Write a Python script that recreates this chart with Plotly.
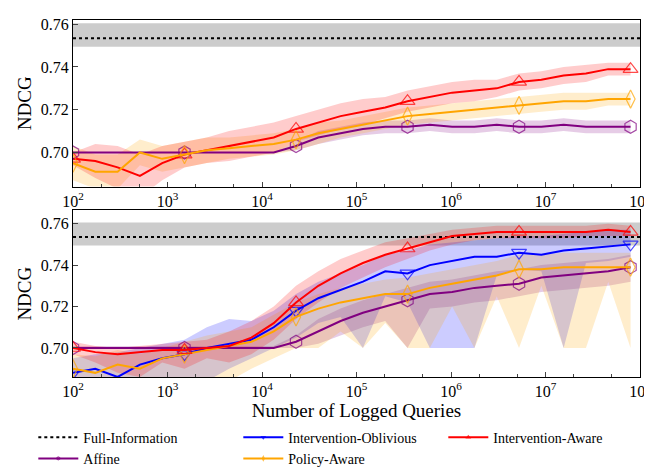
import plotly.graph_objects as go
from plotly.subplots import make_subplots

log_x = [2 + 0.236 * i for i in range(26)]
x = [10 ** v for v in log_x]
full_info = 0.7535
full_lo, full_hi = 0.7495, 0.7605

# top panel
top_affine = [0.700]*10 + [0.703, 0.707, 0.709, 0.711, 0.712, 0.712, 0.713, 0.712, 0.712, 0.713, 0.712, 0.712, 0.713, 0.712, 0.712, 0.712]
top_aware = [0.697, 0.696, 0.693, 0.689, 0.695, 0.699, 0.701, 0.703, 0.705, 0.707, 0.711, 0.714, 0.717, 0.719, 0.721, 0.724, 0.726, 0.728, 0.729, 0.730, 0.733, 0.734, 0.736, 0.737, 0.739, 0.739]
top_policy = [0.695, 0.691, 0.691, 0.700, 0.697, 0.699, 0.701, 0.702, 0.703, 0.704, 0.706, 0.709, 0.711, 0.713, 0.715, 0.717, 0.718, 0.719, 0.720, 0.721, 0.722, 0.723, 0.724, 0.724, 0.725, 0.725]
top_affine_sd = [0.0]*10 + [0.002, 0.003, 0.003, 0.003, 0.003, 0.003, 0.003, 0.003, 0.003, 0.003, 0.003, 0.003, 0.003, 0.003, 0.003, 0.003]
top_aware_sd = [0.003, 0.008, 0.010, 0.010, 0.008, 0.006, 0.006, 0.007, 0.007, 0.007, 0.006, 0.006, 0.006, 0.006, 0.005, 0.005, 0.005, 0.005, 0.005, 0.004, 0.004, 0.004, 0.004, 0.004, 0.003, 0.003]
top_policy_sd = [0.008, 0.008, 0.008, 0.006, 0.006, 0.006, 0.006, 0.005, 0.005, 0.005, 0.005, 0.005, 0.004, 0.004, 0.004, 0.004, 0.004, 0.004, 0.004, 0.004, 0.004, 0.004, 0.004, 0.004, 0.003, 0.003]

# bottom panel
bot_affine = [0.700]*10 + [0.703, 0.708, 0.713, 0.717, 0.720, 0.723, 0.726, 0.727, 0.729, 0.730, 0.731, 0.734, 0.735, 0.736, 0.737, 0.739]
bot_oblivious = [0.688, 0.690, 0.686, 0.692, 0.695, 0.697, 0.700, 0.702, 0.704, 0.710, 0.718, 0.724, 0.728, 0.732, 0.737, 0.736, 0.740, 0.742, 0.744, 0.744, 0.746, 0.745, 0.747, 0.748, 0.749, 0.750]
bot_aware = [0.700, 0.698, 0.697, 0.698, 0.699, 0.699, 0.700, 0.701, 0.705, 0.712, 0.722, 0.730, 0.736, 0.741, 0.745, 0.748, 0.751, 0.754, 0.755, 0.756, 0.756, 0.756, 0.756, 0.756, 0.757, 0.756]
bot_policy = [0.690, 0.688, 0.692, 0.690, 0.695, 0.697, 0.699, 0.701, 0.703, 0.708, 0.715, 0.719, 0.722, 0.724, 0.726, 0.726, 0.729, 0.731, 0.733, 0.735, 0.738, 0.738, 0.739, 0.739, 0.739, 0.739]
bot_affine_lo = [0.700]*10 + [0.700, 0.702, 0.706, 0.710, 0.713, 0.700, 0.719, 0.720, 0.722, 0.723, 0.725, 0.727, 0.728, 0.729, 0.730, 0.732]
bot_affine_hi = [0.701]*10 + [0.706, 0.714, 0.719, 0.723, 0.726, 0.729, 0.732, 0.733, 0.735, 0.737, 0.738, 0.740, 0.741, 0.742, 0.743, 0.745]
bot_obl_lo = [0.684, 0.684, 0.684, 0.684, 0.684, 0.684, 0.684, 0.690, 0.695, 0.700, 0.705, 0.712, 0.715, 0.700, 0.725, 0.722, 0.700, 0.700, 0.700, 0.735, 0.738, 0.737, 0.700, 0.741, 0.742, 0.744]
bot_obl_hi = [0.695, 0.697, 0.698, 0.700, 0.702, 0.704, 0.710, 0.714, 0.713, 0.718, 0.726, 0.732, 0.736, 0.740, 0.745, 0.747, 0.750, 0.751, 0.752, 0.753, 0.754, 0.754, 0.755, 0.756, 0.757, 0.757]
bot_aware_lo = [0.697, 0.693, 0.688, 0.686, 0.693, 0.690, 0.695, 0.693, 0.697, 0.704, 0.714, 0.722, 0.729, 0.734, 0.739, 0.743, 0.747, 0.750, 0.752, 0.753, 0.753, 0.753, 0.753, 0.754, 0.754, 0.754]
bot_aware_hi = [0.703, 0.701, 0.700, 0.701, 0.702, 0.703, 0.704, 0.708, 0.713, 0.720, 0.730, 0.737, 0.743, 0.747, 0.751, 0.753, 0.755, 0.757, 0.758, 0.759, 0.759, 0.759, 0.759, 0.759, 0.760, 0.759]
bot_pol_lo = [0.684, 0.684, 0.684, 0.684, 0.684, 0.684, 0.684, 0.684, 0.690, 0.695, 0.700, 0.700, 0.708, 0.700, 0.712, 0.700, 0.700, 0.720, 0.700, 0.725, 0.700, 0.730, 0.700, 0.700, 0.732, 0.700]
bot_pol_hi = [0.697, 0.696, 0.699, 0.697, 0.700, 0.703, 0.706, 0.708, 0.710, 0.716, 0.722, 0.726, 0.729, 0.731, 0.733, 0.734, 0.736, 0.738, 0.740, 0.742, 0.745, 0.745, 0.746, 0.746, 0.746, 0.746]

PURPLE, BLUE, RED, ORANGE = "#800080", "#0000ff", "#ff0000", "#ffa500"
RGBA = {PURPLE: "rgba(128,0,128,0.2)", BLUE: "rgba(0,0,255,0.2)", RED: "rgba(255,0,0,0.2)", ORANGE: "rgba(255,165,0,0.2)"}
sizes = [13 if i % 5 == 0 else 0 for i in range(26)]

fig = make_subplots(rows=2, cols=1)

def band(lo, hi, color, row):
    fig.add_trace(go.Scatter(x=x + x[::-1], y=list(hi) + list(lo)[::-1], fill="toself",
                             fillcolor=RGBA[color], line=dict(width=0), mode="lines",
                             showlegend=False, hoverinfo="skip"), row=row, col=1)

def line(y, color, symbol, name, row, show):
    fig.add_trace(go.Scatter(x=x, y=y, mode="lines+markers", name=name,
                             line=dict(color=color, width=2),
                             marker=dict(symbol=symbol, size=sizes, color=color, line=dict(width=1.2, color=color)),
                             showlegend=show), row=row, col=1)

for row in (1, 2):
    fig.add_shape(type="rect", xref="x domain", yref="y" if row == 1 else "y2", x0=0, x1=1,
                  y0=full_lo, y1=full_hi, fillcolor="rgba(128,128,128,0.4)", line=dict(width=0), layer="below")

top_series = [(top_affine, top_affine_sd, PURPLE), (top_policy, top_policy_sd, ORANGE), (top_aware, top_aware_sd, RED)]
for y, sd, c in top_series:
    band([a - b for a, b in zip(y, sd)], [a + b for a, b in zip(y, sd)], c, 1)
band(bot_affine_lo, bot_affine_hi, PURPLE, 2)
band(bot_obl_lo, bot_obl_hi, BLUE, 2)
band(bot_pol_lo, bot_pol_hi, ORANGE, 2)
band(bot_aware_lo, bot_aware_hi, RED, 2)

# legend order: Full-Information, Intervention-Oblivious, Intervention-Aware, Affine, Policy-Aware
for row in (1, 2):
    fig.add_trace(go.Scatter(x=[100, 1e8], y=[full_info, full_info], mode="lines", name="Full-Information",
                             line=dict(color="black", width=2, dash="dot"), showlegend=(row == 1)),
                  row=row, col=1)
line(bot_oblivious, BLUE, "triangle-down-open", "Intervention-Oblivious", 2, True)
line(top_aware, RED, "triangle-up-open", "Intervention-Aware", 1, True)
line(top_affine, PURPLE, "hexagon-open", "Affine", 1, True)
line(top_policy, ORANGE, "diamond-tall-open", "Policy-Aware", 1, True)
line(bot_affine, PURPLE, "hexagon-open", "Affine", 2, False)
line(bot_policy, ORANGE, "diamond-tall-open", "Policy-Aware", 2, False)
line(bot_aware, RED, "triangle-up-open", "Intervention-Aware", 2, False)

font = dict(family="Liberation Serif, DejaVu Serif, serif", size=16, color="black")
ax = dict(type="log", range=[2, 8], showline=True, linecolor="black", mirror=True, ticks="inside",
          tickvals=[1e2, 1e3, 1e4, 1e5, 1e6, 1e7, 1e8],
          ticktext=["10<sup>2</sup>", "10<sup>3</sup>", "10<sup>4</sup>", "10<sup>5</sup>", "10<sup>6</sup>", "10<sup>7</sup>", "10<sup>8</sup>"],
          showgrid=False, zeroline=False, minor=dict(ticks="inside", ticklen=3, showgrid=False))
ay = dict(showline=True, linecolor="black", mirror=True, ticks="inside", tickvals=[0.70, 0.72, 0.74, 0.76],
          tickformat=".2f", showgrid=False, zeroline=False, title=dict(text="NDCG", standoff=4))
fig.update_xaxes(**ax)
fig.update_yaxes(**ay)
fig.update_yaxes(range=[0.684, 0.762], domain=[0.5333, 1.0], row=1, col=1)
fig.update_yaxes(range=[0.686, 0.7664], domain=[0.0, 0.4667], row=2, col=1)
fig.update_xaxes(title=dict(text="Number of Logged Queries", standoff=2), row=2, col=1)

fig.update_layout(width=652, height=475, margin=dict(l=65, r=20, t=8, b=88),
                  plot_bgcolor="white", paper_bgcolor="white", font=font,
                  legend=dict(orientation="h", x=-0.07, y=-0.125, xanchor="left", yanchor="top",
                              entrywidth=150, tracegroupgap=0, itemwidth=40,
                              font=dict(size=14), traceorder="normal"))
fig.write_html("out.html")
